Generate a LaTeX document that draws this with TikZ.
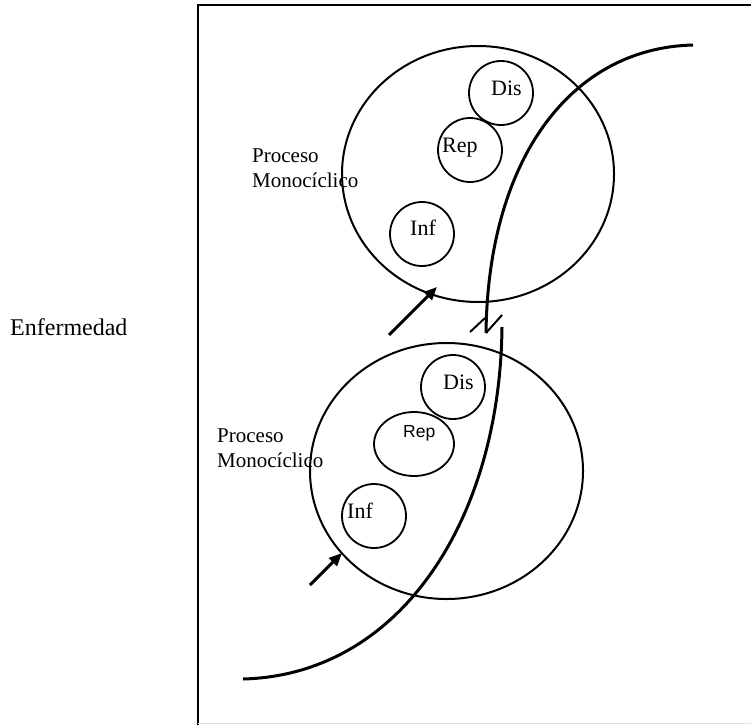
\documentclass[tikz,border=0pt]{standalone}
\usepackage{fontspec}
\setmainfont{Liberation Serif}
\setsansfont{Liberation Sans}
\usepackage{tikz}
\usetikzlibrary{arrows.meta,positioning,calc,shapes.geometric}

\tikzset{
  ring/.style={draw, line width=2pt},
  cell/.style={draw, circle, line width=1.8pt, minimum size=64pt, inner sep=0pt},
  lbl/.style={inner sep=0pt, anchor=base west, font=\fontsize{21}{25}\selectfont},
  tag/.style={inner sep=0pt, anchor=base west, font=\fontsize{22}{26}\selectfont},
  push/.style={line width=3pt, -{Triangle[length=13pt,width=11pt]}},
  wave/.style={line width=3pt}
}

\begin{document}
\begin{tikzpicture}[x=1pt, y=-1pt]
    \useasboundingbox (0,0) rectangle (751,725);
    % frame
    \draw[line width=2.7pt] (198,725) -- (198,5) -- (751,5);
    \draw[black!12, line width=1pt] (198,723.5) -- (751,723.5);
    \node[lbl, font=\fontsize{24}{28}\selectfont] (enf) at (10,335) {Enfermedad};
    % upper cycle
    \draw[ring] (478,174) ellipse (136 and 128);
    \node[lbl] (proc1) at (252,162) {Proceso};
    \node[lbl] (mono1) at (252,187) {Monocíclico};
    \node[cell] (dis1) at (501,93) {};
    \node[cell] (rep1) at (470,150) {};
    \node[cell] (inf1) at (422,234) {};
    \node[tag] (tdis1) at (491,95) {Dis};
    \node[tag] (trep1) at (442,152) {Rep};
    \node[tag] (tinf1) at (410,235) {Inf};
    % lower cycle
    \draw[ring] (446.5,471) ellipse (136.5 and 128);
    \node[lbl] (proc2) at (217,442) {Proceso};
    \node[lbl] (mono2) at (217,467) {Monocíclico};
    \node[cell] (dis2) at (453,387) {};
    \node[cell, ellipse, minimum width=80pt, minimum height=64pt] (rep2) at (414,444) {};
    \node[cell] (inf2) at (374,516) {};
    \node[tag] (tdis2) at (443,389) {Dis};
    \node[inner sep=0pt, anchor=base west, font=\sffamily\fontsize{17.5}{20}\selectfont] (trep2) at (403,437) {Rep};
    \node[tag] (tinf2) at (347,518) {Inf};
    % disease curve with break
    \coordinate (w1) at (693,45);
    \coordinate (w2) at (486,333);
    \coordinate (w3) at (502,327);
    \coordinate (w4) at (243,679);
    \draw[wave] (w1) .. controls (570,48) and (488,160) .. (w2);
    \draw[wave] (w3) .. controls (500,520) and (400,675) .. (w4);
    \draw[line width=2pt] (470,332) -- (485,318);
    \draw[line width=2pt] (w2) -- (502,315);
    % arrows
    \coordinate (a1s) at (389,335);
    \coordinate (a1e) at (437,287);
    \coordinate (a2s) at (310,585);
    \coordinate (a2e) at (342,553);
    \draw[push] (a1s) -- (a1e);
    \draw[push] (a2s) -- (a2e);
\end{tikzpicture}
\end{document}
